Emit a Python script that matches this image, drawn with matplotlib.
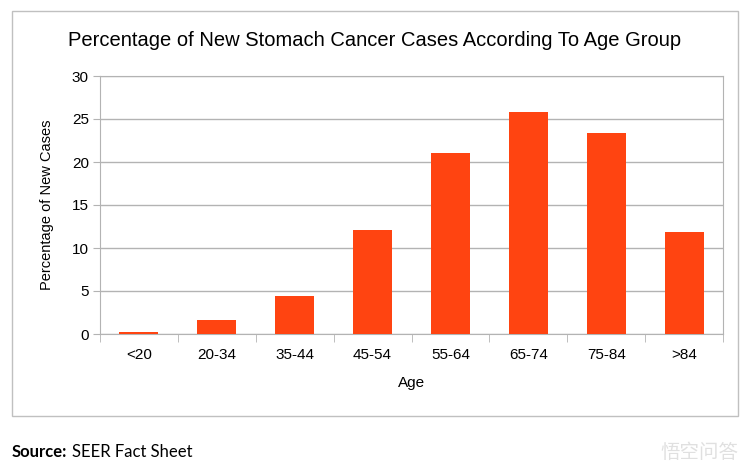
import numpy as np
import matplotlib.pyplot as plt
from matplotlib.patches import Rectangle

age_groups = ['<20', '20-34', '35-44', '45-54', '55-64', '65-74', '75-84', '>84']
pct_new_cases = [0.2, 1.6, 4.4, 12.1, 21.0, 25.8, 23.4, 11.9]

bar_color = '#ff4411'
grid_color = '#b3b3b3'

fig = plt.figure(figsize=(7.5, 4.75), dpi=100)
plt.rcParams['font.family'] = ['Liberation Sans', 'DejaVu Sans']

# outer chart frame
fig.patches.append(Rectangle((12 / 750, 1 - 416 / 475), 726 / 750, 405 / 475,
                             transform=fig.transFigure, fill=False,
                             edgecolor='#c0c0c0', linewidth=1))

ax = fig.add_axes([100 / 750, 1 - 334 / 475, 623 / 750, 258 / 475])
x = np.arange(len(age_groups))
ax.bar(x, pct_new_cases, width=0.5, color=bar_color, zorder=3)

ax.set_xlim(-0.5, len(age_groups) - 0.5)
ax.set_ylim(0, 30)
ax.set_yticks(range(0, 31, 5))
ax.set_xticks(x)
ax.set_xticklabels(age_groups, fontsize=11)
ax.set_xticks(np.arange(-0.5, len(age_groups)), minor=True)
ax.tick_params(axis='x', which='major', length=0, pad=10)
ax.tick_params(axis='x', which='minor', length=6, color=grid_color)
ax.tick_params(axis='y', length=5, color=grid_color, labelsize=11, pad=3)
ax.yaxis.grid(True, color=grid_color, linewidth=1, zorder=0)
for s in ax.spines.values():
    s.set_color(grid_color)

ax.set_xlabel('Age', fontsize=11, labelpad=10)
ax.set_ylabel('Percentage of New Cases', fontsize=10.5, labelpad=13)

fig.text(0.5, 1 - 40 / 475, 'Percentage of New Stomach Cancer Cases According To Age Group',
         ha='center', va='center', fontsize=14.5)

src = fig.text(12 / 750, 1 - 452 / 475, 'Source:', ha='left', va='center',
               fontsize=12, fontweight='bold', family=['Lato', 'DejaVu Sans'])
fig.canvas.draw()
src_end = src.get_window_extent().x1
fig.text((src_end + 5) / 750, 1 - 452 / 475, 'SEER Fact Sheet', ha='left', va='center',
         fontsize=12, family=['Lato', 'DejaVu Sans'])
fig.text(738 / 750, 1 - 452 / 475, '悟空问答', ha='right', va='center',
         fontsize=14, color='#e0e0e0', family=['Noto Sans CJK SC', 'DejaVu Sans'])

fig.savefig('out.png', dpi=100)
